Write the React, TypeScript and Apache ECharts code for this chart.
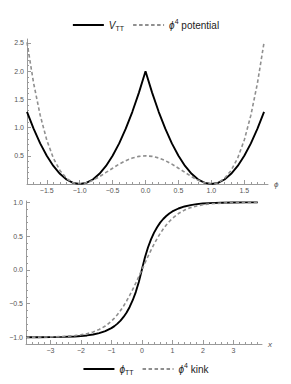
import React, { useEffect, useRef } from "react";
import * as echarts from "echarts";

// ---- top panel data (potential vs phi) ----
const phiValues = [
  -1.8, -1.7, -1.6, -1.5, -1.4, -1.3, -1.2, -1.1, -1.0, -0.9, -0.8, -0.7, -0.6, -0.5, -0.4, -0.3, -0.2, -0.1,
  0.0, 0.1, 0.2, 0.3, 0.4, 0.5, 0.6, 0.7, 0.8, 0.9, 1.0, 1.1, 1.2, 1.3, 1.4, 1.5, 1.6, 1.7, 1.8,
];
const vttValues = [
  1.28, 0.98, 0.72, 0.5, 0.32, 0.18, 0.08, 0.02, 0.0, 0.02, 0.08, 0.18, 0.32, 0.5, 0.72, 0.98, 1.28, 1.62,
  2.0, 1.62, 1.28, 0.98, 0.72, 0.5, 0.32, 0.18, 0.08, 0.02, 0.0, 0.02, 0.08, 0.18, 0.32, 0.5, 0.72, 0.98, 1.28,
];
const phi4PotValues = [
  2.51, 1.79, 1.22, 0.78, 0.46, 0.24, 0.1, 0.02, 0.0, 0.02, 0.065, 0.13, 0.205, 0.28, 0.353, 0.414, 0.461, 0.49,
  0.5, 0.49, 0.461, 0.414, 0.353, 0.28, 0.205, 0.13, 0.065, 0.02, 0.0, 0.02, 0.1, 0.24, 0.46, 0.78, 1.22, 1.79, 2.51,
];

// ---- bottom panel data (kink profiles vs x) ----
const xValues = [
  -3.8, -3.4, -3.0, -2.6, -2.2, -2.0, -1.8, -1.6, -1.4, -1.2, -1.0, -0.9, -0.8, -0.7, -0.6, -0.5, -0.4, -0.3, -0.2, -0.1,
  0.0, 0.1, 0.2, 0.3, 0.4, 0.5, 0.6, 0.7, 0.8, 0.9, 1.0, 1.2, 1.4, 1.6, 1.8, 2.0, 2.2, 2.6, 3.0, 3.4, 3.8,
];
const kinkTTValues = [
  -0.9995, -0.9989, -0.9975, -0.9945, -0.988, -0.982, -0.973, -0.959, -0.939, -0.909, -0.865, -0.835, -0.798, -0.753,
  -0.699, -0.632, -0.551, -0.451, -0.33, -0.181,
  0.0, 0.181, 0.33, 0.451, 0.551, 0.632, 0.699, 0.753, 0.798, 0.835, 0.865, 0.909, 0.939, 0.959, 0.973, 0.982, 0.988,
  0.9945, 0.9975, 0.9989, 0.9995,
];
const kinkPhi4Values = [
  -0.999, -0.998, -0.995, -0.989, -0.976, -0.964, -0.947, -0.922, -0.885, -0.834, -0.762, -0.716, -0.664, -0.604,
  -0.537, -0.462, -0.38, -0.291, -0.197, -0.1,
  0.0, 0.1, 0.197, 0.291, 0.38, 0.462, 0.537, 0.604, 0.664, 0.716, 0.762, 0.834, 0.885, 0.922, 0.947, 0.964, 0.976,
  0.989, 0.995, 0.998, 0.999,
];

// ---- ticks ----
const topXTicks = [-1.5, -1.0, -0.5, 0.0, 0.5, 1.0, 1.5];
const topXMinor = [
  -1.8, -1.7, -1.6, -1.4, -1.3, -1.2, -1.1, -0.9, -0.8, -0.7, -0.6, -0.4, -0.3, -0.2, -0.1,
  0.1, 0.2, 0.3, 0.4, 0.6, 0.7, 0.8, 0.9, 1.1, 1.2, 1.3, 1.4, 1.6, 1.7, 1.8,
];
const topYTicks = [0.5, 1.0, 1.5, 2.0, 2.5];
const topYMinor = [
  0.1, 0.2, 0.3, 0.4, 0.6, 0.7, 0.8, 0.9, 1.1, 1.2, 1.3, 1.4, 1.6, 1.7, 1.8, 1.9, 2.1, 2.2, 2.3, 2.4,
];
const botXTicks = [-3, -2, -1, 0, 1, 2, 3];
const botXMinor = [
  -3.8, -3.6, -3.4, -3.2, -2.8, -2.6, -2.4, -2.2, -1.8, -1.6, -1.4, -1.2, -0.8, -0.6, -0.4, -0.2,
  0.2, 0.4, 0.6, 0.8, 1.2, 1.4, 1.6, 1.8, 2.2, 2.4, 2.6, 2.8, 3.2, 3.4, 3.6, 3.8,
];
const botYTicks = [-1.0, -0.5, 0.0, 0.5, 1.0];
const botYMinor = [
  -0.9, -0.8, -0.7, -0.6, -0.4, -0.3, -0.2, -0.1, 0.1, 0.2, 0.3, 0.4, 0.6, 0.7, 0.8, 0.9,
];

const seriesNames = ["V_TT", "ϕ⁴ potential", "ϕ_TT", "ϕ⁴ kink"];

const FONT = "Liberation Sans, Arial, sans-serif";
const AXIS_COLOR = "#9a9a9a";
const LABEL_COLOR = "#555";
const DASH_COLOR = "#8f8f8f";

const fmt1 = (v: number) => v.toFixed(1).replace("-", "−");
const fmt0 = (v: number) => v.toFixed(0).replace("-", "−");

function majorAxis(kind: "x" | "y", gridIndex: number, min: number, max: number, ticks: number[], fmt: (v: number) => string, name?: string) {
  return {
    type: "value",
    gridIndex,
    min,
    max,
    position: kind === "x" ? "bottom" : "left",
    name: name,
    nameLocation: "end",
    nameGap: 6,
    nameTextStyle: { fontFamily: FONT, fontSize: 8, color: LABEL_COLOR, fontStyle: "italic", verticalAlign: "middle", align: "left" },
    axisLine: { show: true, onZero: false, lineStyle: { color: AXIS_COLOR, width: 1 } },
    axisTick: { show: true, inside: true, length: 4, customValues: ticks, lineStyle: { color: AXIS_COLOR, width: 1 } },
    axisLabel: {
      show: true,
      customValues: ticks,
      formatter: (v: number) => fmt(v),
      fontFamily: FONT,
      fontSize: 7,
      color: LABEL_COLOR,
      margin: 3,
      showMinLabel: true,
      showMaxLabel: true,
    },
    splitLine: { show: false },
  };
}

function minorAxis(kind: "x" | "y", gridIndex: number, min: number, max: number, ticks: number[]) {
  return {
    type: "value",
    gridIndex,
    min,
    max,
    position: kind === "x" ? "bottom" : "left",
    axisLine: { show: false, onZero: false },
    axisTick: { show: true, inside: true, length: 2, customValues: ticks, lineStyle: { color: AXIS_COLOR, width: 1 } },
    axisLabel: { show: false, customValues: ticks },
    splitLine: { show: false },
  };
}

const legendRich = {
  n: { fontFamily: FONT, fontSize: 10, color: "#222", lineHeight: 14, verticalAlign: "middle" },
  i: { fontFamily: FONT, fontSize: 10, color: "#222", fontStyle: "italic", lineHeight: 14, verticalAlign: "middle" },
  s: { fontFamily: FONT, fontSize: 7, color: "#222", lineHeight: 8, verticalAlign: "bottom" },
  p: { fontFamily: FONT, fontSize: 7, color: "#222", lineHeight: 8, verticalAlign: "top" },
};

const legendFormatter = (name: string) => {
  if (name === "V_TT") return "{i|V}{s|TT}";
  if (name === "ϕ_TT") return "{i|ϕ}{s|TT}";
  if (name === "ϕ⁴ potential") return "{i|ϕ}{p|4}{n| potential}";
  if (name === "ϕ⁴ kink") return "{i|ϕ}{p|4}{n| kink}";
  return name;
};

function legendAt(names: string[], top: number) {
  return {
    data: names,
    top,
    left: "center",
    itemWidth: 31,
    itemHeight: 10,
    itemGap: 8,
    formatter: legendFormatter,
    textStyle: { rich: legendRich },
    itemStyle: { opacity: 0, borderWidth: 0 },
    selectedMode: false,
  };
}

export default function App() {
  const ref = useRef<HTMLDivElement>(null);
  useEffect(() => {
    document.body.style.margin = "0";
    if (!ref.current) return;
    const chart = echarts.init(ref.current, null, { renderer: "svg" });
    const solid = { color: "#000", width: 1.9, type: "solid" as const };
    const dashed = { color: DASH_COLOR, width: 1.6, type: [3.5, 2.5] as any };
    chart.setOption({
      animation: false,
      backgroundColor: "#fff",
      textStyle: { fontFamily: FONT },
      grid: [
        { left: 27, top: 39, width: 241, height: 145 },
        { left: 26, top: 201, width: 236, height: 143 },
      ],
      legend: [
        legendAt([seriesNames[0], seriesNames[1]], 13),
        legendAt([seriesNames[2], seriesNames[3]], 357),
      ],
      xAxis: [
        majorAxis("x", 0, -1.8, 1.86, topXTicks, fmt1, "ϕ"),
        minorAxis("x", 0, -1.8, 1.86, topXMinor),
        majorAxis("x", 1, -3.8, 3.94, botXTicks, fmt0, "x"),
        minorAxis("x", 1, -3.8, 3.94, botXMinor),
      ],
      yAxis: [
        majorAxis("y", 0, 0, 2.57, topYTicks, fmt1),
        minorAxis("y", 0, 0, 2.57, topYMinor),
        majorAxis("y", 1, -1.1, 1.02, botYTicks, fmt1),
        minorAxis("y", 1, -1.1, 1.02, botYMinor),
      ],
      series: [
        {
          name: seriesNames[0],
          type: "line",
          xAxisIndex: 0,
          yAxisIndex: 0,
          symbol: "none",
          lineStyle: solid,
          itemStyle: { color: "#000" },
          data: phiValues.map((p, i) => [p, vttValues[i]]),
          z: 3,
        },
        {
          name: seriesNames[1],
          type: "line",
          xAxisIndex: 0,
          yAxisIndex: 0,
          symbol: "none",
          lineStyle: dashed,
          itemStyle: { color: DASH_COLOR },
          data: phiValues.map((p, i) => [p, phi4PotValues[i]]),
          z: 4,
        },
        {
          name: seriesNames[2],
          type: "line",
          xAxisIndex: 2,
          yAxisIndex: 2,
          symbol: "none",
          lineStyle: solid,
          itemStyle: { color: "#000" },
          data: xValues.map((x, i) => [x, kinkTTValues[i]]),
          z: 3,
        },
        {
          name: seriesNames[3],
          type: "line",
          xAxisIndex: 2,
          yAxisIndex: 2,
          symbol: "none",
          lineStyle: dashed,
          itemStyle: { color: DASH_COLOR },
          data: xValues.map((x, i) => [x, kinkPhi4Values[i]]),
          z: 4,
        },
      ],
    });
    return () => chart.dispose();
  }, []);
  return <div ref={ref} style={{ width: 291, height: 384, position: "absolute", left: 0, top: 0 }} />;
}
